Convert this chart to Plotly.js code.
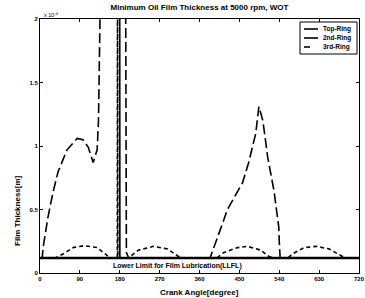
<!DOCTYPE html>
<html><head><meta charset="utf-8">
<script src="https://cdn.plot.ly/plotly-3.0.1.min.js"></script>
<style>html,body{margin:0;padding:0;background:#fff}#c{width:365px;height:298px}</style>
</head><body><div id="c"></div>
<script>
// Film thickness values in units of 1e-4 m
const seriesNames = ['Top-Ring', '2nd-Ring', '3rd-Ring'];

const angleTop = [0, 179.6, 180, 180.4, 720];
const filmTop  = [0.115, 0.115, 2.6, 0.115, 0.115];

const angle2nd = [0, 5, 7, 18, 29, 41, 61, 84, 97, 109, 120, 129, 132, 138, 193, 195, 200,
                  384, 412, 423, 457, 471, 487, 494, 503, 514, 528, 539, 540, 542, 720];
const film2nd  = [0.12, 0.12, 0.2, 0.44, 0.63, 0.8, 0.97, 1.06, 1.05, 0.99, 0.87, 0.97, 1.2, 2.6, 2.6, 0.16, 0.12,
                  0.12, 0.39, 0.5, 0.71, 0.87, 1.1, 1.31, 1.2, 0.91, 0.65, 0.36, 0.25, 0.12, 0.12];

const angle3rd = [0, 35, 52, 75, 100, 129, 154, 160, 174.5, 175, 175.5, 200, 222, 256, 287, 317,
                  400, 414, 446, 468, 498, 517, 525, 560, 570, 596, 623, 652, 679, 688, 720];
const film3rd  = [0.12, 0.12, 0.15, 0.2, 0.215, 0.2, 0.13, 0.12, 0.12, 2.6, 0.12, 0.12, 0.18, 0.21, 0.19, 0.12,
                  0.12, 0.16, 0.2, 0.21, 0.18, 0.13, 0.12, 0.12, 0.15, 0.2, 0.21, 0.19, 0.14, 0.12, 0.12];

const llflAngle = [0, 720];
const llflFilm  = [0.12, 0.12];

const xTicks = [0, 90, 180, 270, 360, 450, 540, 630, 720];
const yTicks = [0, 0.5, 1, 1.5, 2];
const yTickText = ['0', '0.5', '1', '1.5', '2'];

const FONT = 'Liberation Sans, Arial, Helvetica, sans-serif';
const dashes = ['solid', '10px,4px', '4px,3px'];
const L = 40, R = 6, T = 19, B = 25, W = 365, H = 298;
const pw = W - L - R, ph = H - T - B;
const px2x = p => (p - L) / pw;
const py2y = p => (H - B - p) / ph;

const traces = [
  {x: angleTop, y: filmTop, mode: 'lines', name: seriesNames[0], line: {color: 'black', width: 1.5, dash: dashes[0]}},
  {x: angle2nd, y: film2nd, mode: 'lines', name: seriesNames[1], line: {color: 'black', width: 1.6, dash: dashes[1]}},
  {x: angle3rd, y: film3rd, mode: 'lines', name: seriesNames[2], line: {color: 'black', width: 1.6, dash: dashes[2]}},
  {x: llflAngle, y: llflFilm, mode: 'lines', name: 'LLFL', line: {color: 'black', width: 2}}
];

const shapes = [];
const annotations = [];
// legend box
shapes.push({type: 'rect', xref: 'paper', yref: 'paper', x0: px2x(300), x1: px2x(357), y0: py2y(54), y1: py2y(22),
  line: {color: 'black', width: 1}, fillcolor: 'white', layer: 'above'});
const legY = [29, 38, 47];
seriesNames.forEach((n, i) => {
  shapes.push({type: 'line', xref: 'paper', yref: 'paper', x0: px2x(304), x1: px2x(i === 2 ? 310 : 318),
    y0: py2y(legY[i]), y1: py2y(legY[i]), line: {color: 'black', width: 1.6, dash: 'solid'}, layer: 'above'});
  annotations.push({xref: 'paper', yref: 'paper', x: px2x(321), y: py2y(legY[i]), xanchor: 'left', yanchor: 'middle',
    text: n, showarrow: false, font: {family: FONT, size: 6.5, color: '#000000', weight: 'bold'}});
});

annotations.push({xref: 'x', yref: 'y', x: 311, y: 0.055, text: 'Lower Limit for Film Lubrication(LLFL)',
  showarrow: false, xanchor: 'center', yanchor: 'middle', font: {family: FONT, size: 7, color: '#000000', weight: 'bold'}});
annotations.push({xref: 'paper', yref: 'paper', x: 0, y: 1, xanchor: 'left', yanchor: 'bottom', xshift: 2, yshift: -1,
  text: 'x 10<sup>-4</sup>', showarrow: false, font: {family: FONT, size: 5.5, color: '#000000'}});
annotations.push({xref: 'paper', yref: 'paper', x: 0.5, y: 0, xanchor: 'center', yanchor: 'top', yshift: -13,
  text: 'Crank Angle[degree]', showarrow: false, font: {family: FONT, size: 8, color: '#000000', weight: 'bold'}});
annotations.push({xref: 'paper', yref: 'paper', x: 0, y: py2y(211), xanchor: 'center', yanchor: 'middle', xshift: -23,
  text: 'Film Thickness[m]', textangle: -90, showarrow: false, font: {family: FONT, size: 8, color: '#000000', weight: 'bold'}});

const axisCommon = {
  showgrid: false, zeroline: false, showline: true, linecolor: 'black', linewidth: 1, mirror: 'ticks',
  ticks: 'inside', ticklen: 3, tickcolor: 'black', tickwidth: 1,
  tickfont: {family: FONT, size: 6, color: 'black', weight: 'bold'}, fixedrange: true
};

const layout = {
  width: W, height: H, margin: {l: L, r: R, t: T, b: B, pad: 0},
  paper_bgcolor: 'white', plot_bgcolor: 'white', showlegend: false,
  title: {text: 'Minimum Oil Film Thickness at 5000 rpm, WOT', x: 0.5, xref: 'paper', y: 1 - 7 / H, yref: 'container',
    xanchor: 'center', yanchor: 'middle', font: {family: FONT, size: 8, color: 'black', weight: 'bold'}},
  xaxis: Object.assign({}, axisCommon, {range: [0, 720], tickmode: 'array', tickvals: xTicks}),
  yaxis: Object.assign({}, axisCommon, {range: [0, 2], tickmode: 'array', tickvals: yTicks, ticktext: yTickText}),
  shapes: shapes, annotations: annotations
};

Plotly.newPlot('c', traces, layout, {displayModeBar: false, staticPlot: true});
</script></body></html>
